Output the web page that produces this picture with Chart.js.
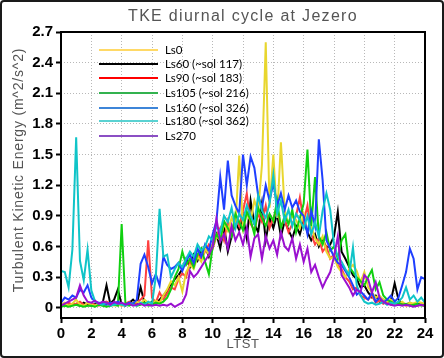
<!DOCTYPE html>
<html>
<head>
<meta charset="utf-8">
<script src="https://cdn.jsdelivr.net/npm/chart.js@4"></script>
<style>
  body { margin: 0; background: #fff; }
  canvas { display: block; }
</style>
</head>
<body>
<canvas id="canvas" width="444" height="358"></canvas>
<script>
// hours of the day, one value every 15 minutes
const LTST = Array.from({length: 97}, (_, i) => i / 4);

const X_TICKS = [0, 2, 4, 6, 8, 10, 12, 14, 16, 18, 20, 22, 24];
const Y_TICKS = [0, 0.3, 0.6, 0.9, 1.2, 1.5, 1.8, 2.1, 2.4, 2.7];

const ls0 = [
  0.03, 0.05, 0.02, 0.04, 0.08, 0.03, 0.02, 0.05,
  0.03, 0.02, 0.04, 0.02, 0.03, 0.05, 0.02, 0.03,
  0.02, 0.04, 0.03, 0.05, 0.06, 0.04, 0.08, 0.05,
  0.04, 0.07, 0.05, 0.12, 0.18, 0.26, 0.22, 0.30,
  0.16, 0.35, 0.42, 0.38, 0.50, 0.45, 0.58, 0.52,
  0.62, 0.70, 0.66, 0.82, 0.75, 0.88, 0.80, 1.49,
  0.78, 0.92, 0.85, 1.05, 0.95, 1.40, 2.60, 0.98,
  1.50, 0.88, 1.62, 0.95, 0.82, 0.90, 0.86, 0.78,
  0.92, 0.75, 0.80, 0.68, 0.62, 0.70, 0.55, 0.48,
  0.50, 0.40, 0.35, 0.30, 0.38, 0.42, 0.36, 0.25,
  0.35, 0.20, 0.15, 0.10, 0.12, 0.08, 0.06, 0.08,
  0.05, 0.04, 0.06, 0.03, 0.05, 0.04, 0.06, 0.05,
  0.04
];
const ls60 = [
  0.02, 0.03, 0.02, 0.04, 0.03, 0.02, 0.05, 0.03,
  0.02, 0.04, 0.03, 0.05, 0.22, 0.04, 0.08, 0.18,
  0.03, 0.02, 0.05, 0.08, 0.04, 0.20, 0.05, 0.03,
  0.06, 0.04, 0.08, 0.12, 0.16, 0.22, 0.28, 0.32,
  0.38, 0.48, 0.40, 0.52, 0.46, 0.56, 0.60, 0.50,
  0.62, 0.72, 0.58, 0.80, 0.55, 0.70, 0.84, 0.76,
  0.90, 0.68, 1.05, 0.82, 0.74, 1.02, 0.66, 0.88,
  0.78, 0.92, 0.70, 0.85, 0.76, 0.68, 0.80, 0.72,
  0.86, 0.74, 0.66, 0.72, 0.60, 0.68, 0.58, 0.62,
  0.70, 0.94, 0.55, 0.48, 0.40, 0.32, 0.28, 0.20,
  0.22, 0.15, 0.10, 0.12, 0.06, 0.08, 0.05, 0.07,
  0.24, 0.08, 0.04, 0.03, 0.05, 0.02, 0.04, 0.03,
  0.02
];
const ls90 = [
  0.02, 0.03, 0.05, 0.03, 0.04, 0.06, 0.03, 0.02,
  0.04, 0.03, 0.02, 0.05, 0.06, 0.04, 0.03, 0.05,
  0.02, 0.04, 0.06, 0.03, 0.05, 0.08, 0.12, 0.66,
  0.10, 0.05, 0.15, 0.08, 0.14, 0.20, 0.18, 0.28,
  0.34, 0.30, 0.45, 0.40, 0.52, 0.48, 0.55, 0.62,
  0.58, 0.70, 0.78, 0.66, 0.85, 0.72, 0.90, 0.80,
  0.95, 1.12, 0.82, 0.76, 0.92, 0.84, 1.00, 0.78,
  0.88, 0.96, 0.80, 0.86, 0.74, 0.82, 0.90, 1.08,
  0.84, 1.00, 0.72, 0.62, 0.68, 0.55, 0.60, 0.48,
  0.52, 0.42, 0.38, 0.30, 0.26, 0.18, 0.20, 0.12,
  0.10, 0.08, 0.12, 0.05, 0.07, 0.04, 0.06, 0.03,
  0.05, 0.03, 0.04, 0.02, 0.03, 0.04, 0.02, 0.03,
  0.02
];
const ls105 = [
  0.01, 0.02, 0.01, 0.02, 0.03, 0.02, 0.01, 0.02,
  0.02, 0.01, 0.03, 0.02, 0.01, 0.02, 0.03, 0.02,
  0.82, 0.03, 0.02, 0.04, 0.02, 0.03, 0.05, 0.02,
  0.03, 0.05, 0.04, 0.06, 0.10, 0.18, 0.30, 0.38,
  0.55, 0.42, 0.48, 0.40, 0.52, 0.58, 0.45, 0.33,
  0.60, 0.72, 0.66, 0.85, 0.78, 0.70, 0.92, 0.84,
  0.76, 0.94, 0.86, 0.72, 0.98, 0.88, 0.80, 0.92,
  0.85, 1.05, 0.78, 0.90, 0.82, 0.96, 0.74, 0.88,
  1.02, 1.55, 0.80, 1.28, 0.70, 0.62, 0.74, 0.56,
  0.60, 0.48, 0.66, 0.72, 0.40, 0.35, 0.30, 0.26,
  0.22, 0.30, 0.37, 0.18, 0.25, 0.12, 0.08, 0.06,
  0.04, 0.05, 0.03, 0.04, 0.02, 0.03, 0.04, 0.02,
  0.03
];
const ls160 = [
  0.05, 0.10, 0.08, 0.12, 0.10, 0.18, 0.15, 0.22,
  0.10, 0.06, 0.05, 0.04, 0.03, 0.05, 0.04, 0.06,
  0.04, 0.03, 0.05, 0.04, 0.08, 0.43, 0.52, 0.40,
  0.24, 0.33, 0.22, 0.50, 0.42, 0.38, 0.40, 0.44,
  0.36, 0.46, 0.52, 0.44, 0.58, 0.50, 0.62, 0.56,
  0.72, 0.85, 1.28, 0.96, 1.44, 1.10, 1.00, 0.92,
  1.50, 1.20, 1.48, 1.37, 1.10, 0.98, 1.20, 1.05,
  1.22, 1.00, 1.12, 0.96, 1.10, 0.98, 1.05, 0.94,
  0.90, 0.72, 0.95, 0.80, 1.65, 1.25, 0.66, 0.58,
  0.50, 0.44, 0.42, 0.36, 0.30, 0.22, 0.13, 0.16,
  0.12, 0.08, 0.15, 0.06, 0.10, 0.05, 0.08, 0.12,
  0.06, 0.10, 0.22, 0.35, 0.58, 0.48, 0.18, 0.30,
  0.28
];
const ls180 = [
  0.36, 0.35, 0.20, 0.57, 1.67, 0.46, 0.27, 0.57,
  0.17, 0.06, 0.04, 0.03, 0.05, 0.02, 0.03, 0.04,
  0.03, 0.02, 0.04, 0.03, 0.02, 0.05, 0.03, 0.06,
  0.04, 0.30, 0.97, 0.50, 0.52, 0.30, 0.38, 0.44,
  0.40, 0.48, 0.55, 0.50, 0.62, 0.56, 0.60, 0.70,
  0.66, 0.80, 0.74, 0.90, 0.84, 0.98, 0.78, 0.92,
  0.86, 1.00, 0.90, 0.82, 1.10, 0.95, 0.88, 1.02,
  1.30, 0.92, 1.05, 0.85, 0.96, 0.80, 0.92, 0.86,
  0.78, 0.90, 0.72, 0.84, 0.70, 0.95, 1.12, 0.96,
  0.62, 0.50, 0.45, 0.38, 0.32, 0.59, 0.22, 0.12,
  0.06, 0.04, 0.05, 0.03, 0.04, 0.06, 0.03, 0.05,
  0.04, 0.06, 0.10, 0.20, 0.08, 0.12, 0.06, 0.10,
  0.05
];
const ls270 = [
  0.02, 0.04, 0.06, 0.08, 0.10, 0.22, 0.12, 0.06,
  0.05, 0.07, 0.04, 0.06, 0.05, 0.03, 0.06, 0.04,
  0.05, 0.03, 0.04, 0.02, 0.03, 0.04, 0.02, 0.03,
  0.02, 0.03, 0.02, 0.03, 0.02, 0.04, 0.01, 0.03,
  0.05, 0.13, 0.36, 0.30, 0.34, 0.40, 0.46, 0.52,
  0.60, 0.87, 0.65, 0.72, 0.58, 0.80, 0.66, 0.74,
  0.62, 0.78, 0.50, 0.68, 0.72, 0.48, 0.70, 0.58,
  0.66, 0.52, 0.74, 0.60, 0.56, 0.68, 0.48, 0.62,
  0.45, 0.58, 0.35, 0.42, 0.30, 0.20, 0.28, 0.35,
  0.50, 0.70, 0.32, 0.26, 0.20, 0.12, 0.18, 0.15,
  0.32, 0.28, 0.15, 0.25, 0.10, 0.06, 0.04, 0.03,
  0.02, 0.03, 0.02, 0.03, 0.02, 0.01, 0.02, 0.03,
  0.02
];

const SERIES = [
  { label: 'Ls0', values: ls0, color: '#e8d62e', key: '#ffd966', order: 4 },
  { label: 'Ls60 (~sol 117)', values: ls60, color: '#000000', key: '#000000', order: 6 },
  { label: 'Ls90 (~sol 183)', values: ls90, color: '#ff4040', key: '#ff0000', order: 5 },
  { label: 'Ls105 (~sol 216)', values: ls105, color: '#10d010', key: '#33b24f', order: 3 },
  { label: 'Ls160 (~sol 326)', values: ls160, color: '#1f3fff', key: '#3d85d8', order: 2 },
  { label: 'Ls180 (~sol 362)', values: ls180, color: '#10c4c8', key: '#5ad2d2', order: 1 },
  { label: 'Ls270', values: ls270, color: '#9a10d0', key: '#8b4fc4', order: 0 }
];

const datasets = SERIES.map(s => ({
  label: s.label,
  data: s.values.map((v, i) => ({x: LTST[i], y: v})),
  borderColor: s.color,
  borderWidth: 2,
  pointRadius: 0,
  tension: 0,
  order: s.order
}));

const frameAndText = {
  id: 'frameAndText',
  beforeDraw(chart) {
    const c = chart.ctx;
    c.save();
    c.fillStyle = '#fff';
    c.fillRect(0, 0, chart.width, chart.height);
    c.restore();
  },
  afterDraw(chart) {
    const c = chart.ctx;
    const a = chart.chartArea;
    c.save();
    // plot frame
    c.strokeStyle = '#000';
    c.lineWidth = 2;
    c.strokeRect(a.left, a.top, a.right - a.left, a.bottom - a.top);

    // legend inside the plot
    c.font = '11.5px Lato';
    c.textBaseline = 'middle';
    c.textAlign = 'left';
    const rows = [50, 64, 78, 93, 108, 121, 136];
    SERIES.forEach((s, i) => {
      c.strokeStyle = s.key;
      c.lineWidth = 2;
      c.beginPath();
      c.moveTo(99, rows[i]);
      c.lineTo(158, rows[i]);
      c.stroke();
      c.fillStyle = '#000';
      c.fillText(s.label, 165, rows[i]);
    });

    // titles
    c.fillStyle = '#555';
    c.textAlign = 'center';
    c.font = '16px "Liberation Sans"';
    c.letterSpacing = '1.3px';
    c.fillText('TKE diurnal cycle at Jezero', 243, 17);
    c.font = '13px "Liberation Sans"';
    c.letterSpacing = '0.5px';
    c.fillText('LTST', 243, 344);
    c.save();
    c.translate(19, 170);
    c.rotate(-Math.PI / 2);
    c.font = '14px "Liberation Sans"';
    c.letterSpacing = '0.8px';
    c.fillText('Turbulent Kinetic Energy (m^2/s^2)', 0, 0);
    c.restore();

    // outer border
    c.letterSpacing = '0px';
    c.strokeStyle = '#1a1a1a';
    c.lineWidth = 2;
    c.beginPath();
    c.roundRect(1, 1, chart.width - 2, chart.height - 2, 3);
    c.stroke();
    c.restore();
  }
};

const tickFont = { family: 'Liberation Sans', size: 15, weight: 'bold' };

new Chart(document.getElementById('canvas'), {
  type: 'line',
  data: { datasets: datasets },
  options: {
    responsive: false,
    animation: false,
    layout: { padding: { top: 32, right: 19, bottom: 0, left: 0 } },
    plugins: {
      legend: { display: false },
      title: { display: false },
      tooltip: { enabled: false }
    },
    scales: {
      x: {
        type: 'linear',
        min: 0,
        max: 24,
        afterFit: s => { s.height = 40; },
        afterBuildTicks: s => { s.ticks = X_TICKS.map(v => ({value: v})); },
        border: { display: false, dash: [1, 2] },
        grid: { color: '#b8b8b8', lineWidth: 1, tickColor: '#000', tickWidth: 2, tickLength: 5 },
        ticks: { color: '#000', font: tickFont, padding: 2, maxRotation: 0, autoSkip: false,
          callback: v => String(v) }
      },
      y: {
        min: -0.1,
        max: 2.7,
        afterFit: s => { s.width = 61; },
        afterBuildTicks: s => { s.ticks = Y_TICKS.map(v => ({value: v})); },
        border: { display: false, dash: [1, 2] },
        grid: { color: '#b8b8b8', lineWidth: 1, tickColor: '#000', tickWidth: 2, tickLength: 5 },
        ticks: { color: '#000', font: tickFont, padding: 3, autoSkip: false,
          callback: v => v === 0 ? '0' : v.toFixed(1) }
      }
    }
  },
  plugins: [frameAndText]
});
</script>
</body>
</html>
